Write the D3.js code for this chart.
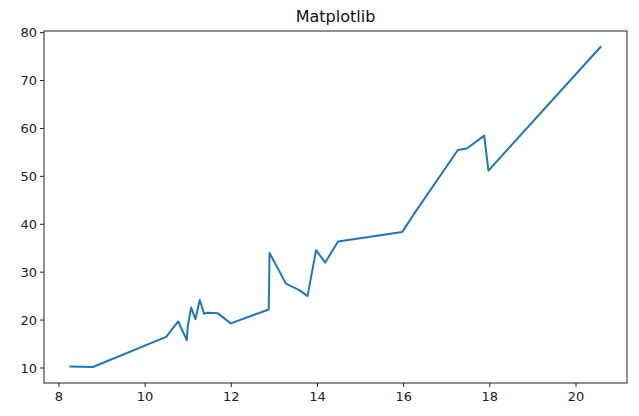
<!DOCTYPE html>
<html>
<head>
<meta charset="utf-8">
<script src="https://cdn.jsdelivr.net/npm/d3@7"></script>
<style>
  body { margin: 0; background: #fff; }
  svg { display: block; }
  .tick text { font-family: "DejaVu Sans", sans-serif; font-size: 13px; fill: #222; }
  .tick line { stroke: #222; }
</style>
</head>
<body>
<svg id="chart" width="639" height="416"></svg>
<script>
// values
var xVals = [8.28, 8.8, 10.5, 10.78, 10.98, 11.0, 11.08, 11.18, 11.28, 11.38, 11.45, 11.7, 12.0, 12.88, 12.9,
             13.28, 13.6, 13.78, 13.98, 14.19, 14.49, 15.98, 16.3, 17.27, 17.48, 17.88, 17.98, 20.58];
var yVals = [10.2, 10.1, 16.4, 19.6, 15.7, 18.5, 22.5, 20.1, 24.1, 21.2, 21.4, 21.3, 19.2, 22.1, 33.9,
             27.5, 26.1, 24.9, 34.5, 31.9, 36.3, 38.3, 42.7, 55.4, 55.7, 58.4, 51.1, 76.9];
var xTicks = [8, 10, 12, 14, 16, 18, 20];
var yTicks = [10, 20, 30, 40, 50, 60, 70, 80];
var title = "Matplotlib";

var svg = d3.select('#chart');
var plotL = 44, plotR = 627, plotT = 31, plotB = 383;

// matplotlib style 5% margins
var xExt = d3.extent(xVals), yExt = d3.extent(yVals);
var xPad = (xExt[1] - xExt[0]) * 0.05, yPad = (yExt[1] - yExt[0]) * 0.05;

var x = d3.scaleLinear().domain([xExt[0] - xPad, xExt[1] + xPad]).range([plotL, plotR]);
var y = d3.scaleLinear().domain([yExt[0] - yPad, yExt[1] + yPad]).range([plotB, plotT]);

var xAxis = svg.append('g')
	.attr('transform', 'translate(0,' + plotB + ')')
	.call(d3.axisBottom(x).tickValues(xTicks).tickSize(4).tickPadding(5).tickFormat(d3.format('d')));
xAxis.select('.domain').remove();

var yAxis = svg.append('g')
	.attr('transform', 'translate(' + plotL + ',0)')
	.call(d3.axisLeft(y).tickValues(yTicks).tickSize(4).tickPadding(3).tickFormat(d3.format('d')));
yAxis.select('.domain').remove();
yAxis.selectAll('.tick text').attr('dy', '0.36em');

//the data line
var pts = xVals.map(function(d, i) { return [d, yVals[i]]; });
svg.append('path')
	.datum(pts)
	.attr('fill', 'none')
	.attr('stroke', '#1f77b4')
	.attr('stroke-width', 2)
	.attr('stroke-linejoin', 'round')
	.attr('stroke-linecap', 'square')
	.attr('d', d3.line().x(function(d) { return x(d[0]); }).y(function(d) { return y(d[1]); }));

//frame
svg.append('rect')
	.attr('x', plotL).attr('y', plotT)
	.attr('width', plotR - plotL).attr('height', plotB - plotT)
	.attr('fill', 'none').attr('stroke', '#222').attr('stroke-width', 1);

svg.append('text')
	.attr('x', (plotL + plotR) / 2).attr('y', 22)
	.attr('text-anchor', 'middle')
	.style('font-family', '"DejaVu Sans", sans-serif')
	.style('font-size', '16px')
	.style('fill', '#111')
	.text(title);
</script>
</body>
</html>
